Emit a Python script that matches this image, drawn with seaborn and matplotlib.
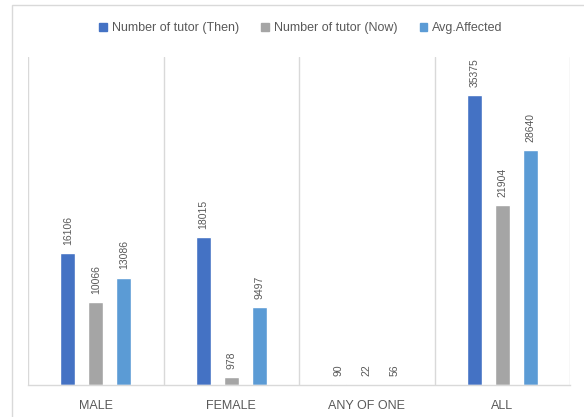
import matplotlib
matplotlib.use("Agg")
import matplotlib.pyplot as plt
import matplotlib.patches as mpatches
import seaborn as sns
import pandas as pd

categories = ["MALE", "FEMALE", "ANY OF ONE", "ALL"]
series_names = ["Number of tutor (Then)", "Number of tutor (Now)", "Avg.Affected"]
tutor_then = [16106, 18015, 90, 35375]
tutor_now = [10066, 978, 22, 21904]
avg_affected = [13086, 9497, 56, 28640]
colors = ["#4472C4", "#A5A5A5", "#5B9BD5"]

rows = []
for name, vals in zip(series_names, [tutor_then, tutor_now, avg_affected]):
    for cat, v in zip(categories, vals):
        rows.append({"category": cat, "series": name, "value": v})
df = pd.DataFrame(rows)

sns.set_theme(style="white")
plt.rcParams["font.family"] = ["Liberation Sans", "DejaVu Sans"]
text_color = "#595959"
grid_color = "#D9D9D9"

fig = plt.figure(figsize=(5.84, 4.17), dpi=100)
# outer chart-area frame
frame = mpatches.Rectangle((12 / 584, -0.1), 1.2, 1 - 5 / 417 + 0.1,
                           transform=fig.transFigure, fill=False,
                           edgecolor=grid_color, linewidth=1.0)
fig.add_artist(frame)

ax = fig.add_axes([28 / 584, 1 - 385 / 417, (570 - 28) / 584, (385 - 57) / 417])
sns.barplot(data=df, x="category", y="value", hue="series", order=categories,
            hue_order=series_names, palette=colors, width=0.62, gap=0.46,
            saturation=1, ax=ax, legend=False)

for cont in ax.containers:
    ax.bar_label(cont, fmt="%d", rotation=90, padding=6, fontsize=7.5,
                 color=text_color)

ax.set_ylim(0, 40000)
ax.set_xlim(-0.5, len(categories) - 0.5)
ax.set_yticks([])
ax.set_xlabel("")
ax.set_ylabel("")
for s in ["top", "right", "left"]:
    ax.spines[s].set_visible(False)
ax.spines["bottom"].set_color(grid_color)
ax.spines["bottom"].set_linewidth(1.0)
for xb in [i - 0.5 for i in range(len(categories) + 1)]:
    ax.axvline(xb, color=grid_color, linewidth=1.0, zorder=0)
ax.tick_params(axis="x", length=0, pad=11, labelsize=9, labelcolor=text_color)
ax.set_xticks(range(len(categories)))
ax.set_xticklabels(categories)

handles = [mpatches.Patch(color=c, label=n) for c, n in zip(colors, series_names)]
fig.legend(handles=handles, loc="center", bbox_to_anchor=(301 / 584, 1 - 28 / 417),
           ncol=3, frameon=False, fontsize=9, labelcolor=text_color,
           handlelength=0.6, handleheight=0.6, handletextpad=0.4,
           columnspacing=1.8)

fig.savefig("out.png", dpi=100)
